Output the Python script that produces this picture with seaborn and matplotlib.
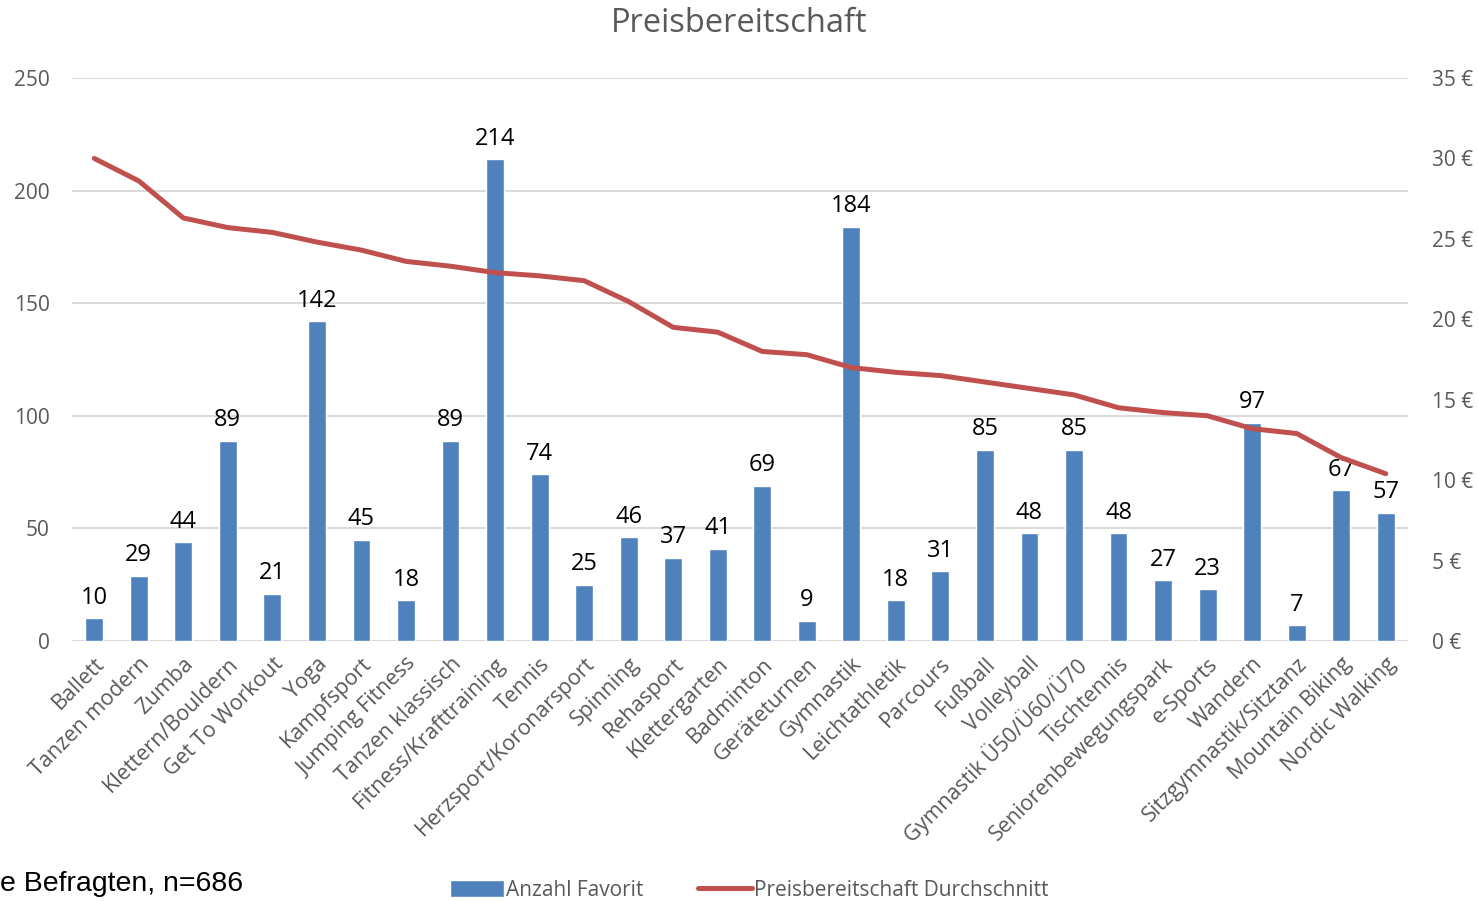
import numpy as np
import pandas as pd
import matplotlib
matplotlib.use('Agg')
import matplotlib.pyplot as plt
import seaborn as sns

sportarten = ['Ballett', 'Tanzen modern', 'Zumba', 'Klettern/Bouldern', 'Get To Workout', 'Yoga',
              'Kampfsport', 'Jumping Fitness', 'Tanzen klassisch', 'Fitness/Krafttraining', 'Tennis',
              'Herzsport/Koronarsport', 'Spinning', 'Rehasport', 'Klettergarten', 'Badminton',
              'Geräteturnen', 'Gymnastik', 'Leichtathletik', 'Parcours', 'Fußball', 'Volleyball',
              'Gymnastik Ü50/Ü60/Ü70', 'Tischtennis', 'Seniorenbewegungspark', 'e-Sports', 'Wandern',
              'Sitzgymnastik/Sitztanz', 'Mountain Biking', 'Nordic Walking']
anzahl = [10, 29, 44, 89, 21, 142, 45, 18, 89, 214, 74, 25, 46, 37, 41, 69, 9, 184, 18, 31,
          85, 48, 85, 48, 27, 23, 97, 7, 67, 57]
preis = [30.0, 28.6, 26.3, 25.7, 25.4, 24.8, 24.3, 23.6, 23.3, 22.9, 22.7, 22.4, 21.1, 19.5,
         19.2, 18.0, 17.8, 17.0, 16.7, 16.5, 16.1, 15.7, 15.3, 14.5, 14.2, 14.0, 13.2, 12.9,
         11.4, 10.4]
links_ticks = [0, 50, 100, 150, 200, 250]
rechts_ticks = [0, 5, 10, 15, 20, 25, 30, 35]

df = pd.DataFrame({'Sportart': sportarten, 'Anzahl': anzahl, 'Preis': preis})

sns.set_theme(style='white')
plt.rcParams['font.family'] = ['Open Sans', 'DejaVu Sans']

grau = '#595959'
blau = '#4F81BD'
rot = '#C0504D'

fig = plt.figure(figsize=(14.78, 9.01), dpi=100)
ax = fig.add_axes([72/1478, 1-641/901, (1408-72)/1478, (641-78)/901])

sns.barplot(data=df, x='Sportart', y='Anzahl', color=blau, saturation=1, width=0.4, ax=ax,
            label='Anzahl Favorit')
ax.set_ylim(0, 250)
ax.set_xlim(-0.5, len(sportarten) - 0.5)
ax.set_yticks(links_ticks)
ax.yaxis.grid(True, color='#D9D9D9', lw=1.4)
ax.set_axisbelow(True)
for s in ax.spines.values():
    s.set_visible(False)
ax.tick_params(axis='y', length=0, labelsize=15, labelcolor=grau, pad=16)
ax.tick_params(axis='x', length=0, labelsize=15.5, labelcolor=grau, pad=9)
ax.set_xticks(range(len(sportarten)))
ax.set_xticklabels(sportarten, rotation=45, ha='right', rotation_mode='anchor')
ax.set_xlabel('')
ax.set_ylabel('')
ax.bar_label(ax.containers[0], padding=6, fontsize=17, color='black')

ax2 = ax.twinx()
sns.lineplot(x=np.arange(len(preis)), y=preis, color=rot, lw=3.6, sort=False, ax=ax2,
             label='Preisbereitschaft Durchschnitt')
ax2.set_ylim(0, 35)
ax2.set_yticks(rechts_ticks)
ax2.set_yticklabels([f'{v} €' for v in rechts_ticks])
ax2.tick_params(axis='y', length=0, labelsize=15, labelcolor=grau, pad=17)
for s in ax2.spines.values():
    s.set_visible(False)
ax2.set_ylabel('')
ax2.legend_.remove()
if ax.legend_ is not None:
    ax.legend_.remove()

fig.suptitle('Preisbereitschaft', y=1-23/901, va='center', fontsize=23.5, color=grau)

h1, l1 = ax.get_legend_handles_labels()
h2, l2 = ax2.get_legend_handles_labels()
fig.legend(h1 + h2, l1 + l2, loc='center', bbox_to_anchor=(0.507, 1-890/901), ncol=2,
           frameon=False, fontsize=15, labelcolor=grau, handlelength=2.6, handleheight=0.9,
           handletextpad=0.1, columnspacing=2.6)

fig.text(0, 1-884/901, 'e Befragten, n=686', family=['Liberation Sans', 'DejaVu Sans'],
         fontsize=20.5, color='black', va='center', ha='left')

fig.savefig('out.png', dpi=100)
